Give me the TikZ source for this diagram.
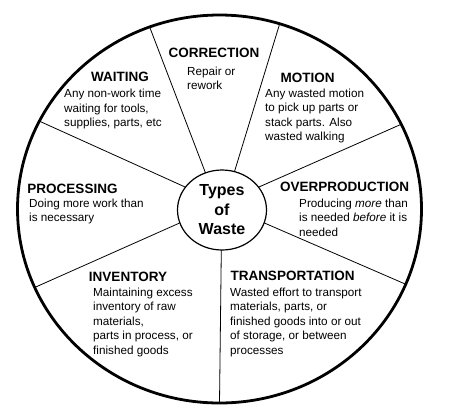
\documentclass[tikz,border=0pt]{standalone}
\usepackage{fontspec}
\setmainfont{Liberation Sans}
\usepackage{tikz}
\usetikzlibrary{shapes.geometric}

\begin{document}
\begin{tikzpicture}[
    x=1pt, y=-1pt,
    rim/.style={ellipse, draw=black, line width=2.8pt, inner sep=0pt, outer sep=0pt,
                minimum width=404pt, minimum height=388pt},
    hub/.style={ellipse, draw=black, line width=1.2pt, inner sep=0pt, outer sep=0pt,
                minimum width=89pt, minimum height=80pt, align=center,
                font=\fontsize{16}{19.5}\selectfont\bfseries},
    head/.style={anchor=base, inner sep=0pt, font=\fontsize{13.5}{16}\selectfont\bfseries},
    body/.style={anchor=base west, inner sep=0pt, align=left,
                 font=\fontsize{11.7}{14.5}\selectfont},
    spoke/.style={draw=black, line width=0.8pt}
]
\useasboundingbox (0,0) rectangle (454,416);

% Wheel
\node[rim] (rim) at (219.5,209) {};
\node[hub] (hub) at (222,210) {Types\\of\\Waste};

% Spokes
\draw[spoke] (hub.114) -- (rim.111);
\draw[spoke] (hub.72) -- (rim.72);
\draw[spoke] (hub.32) -- (rim.25);
\draw[spoke] (hub.-17) -- (rim.-22.6);
\draw[spoke] (hub.-91) -- (rim.-90);
\draw[spoke] (hub.197) -- (rim.203);
\draw[spoke] (hub.148) -- (rim.154);

% Headings
\node[head] (correction) at (214,57) {CORRECTION};
\node[head] (waiting) at (120,81) {WAITING};
\node[head] (motion) at (307.5,82) {MOTION};
\node[head] (processing) at (72.5,193) {PROCESSING};
\node[head] (overproduction) at (344.5,191) {OVERPRODUCTION};
\node[head] (inventory) at (128,281) {INVENTORY};
\node[head] (transportation) at (292.5,280) {TRANSPORTATION};

% Descriptions (placed by the baseline of their last line)
\node[body] (correctiontxt) at (187,89.5) {Repair or\\rework};
\node[body] (waitingtxt) at (64,126.5) {Any non-work time\\waiting for tools,\\supplies, parts, etc};
\node[body] (motiontxt) at (265,140.5) {Any wasted motion\\to pick up parts or\\stack parts. Also\\wasted walking};
\node[body] (processingtxt) at (29,221.5) {Doing more work than\\is necessary};
\node[body] (overproductiontxt) at (299,236) {Producing \textit{more} than\\is needed \textit{before} it is\\needed};
\node[body] (inventorytxt) at (93,354) {Maintaining excess\\inventory of raw\\materials,\\parts in process, or\\finished goods};
\node[body] (transportationtxt) at (230,354) {Wasted effort to transport\\materials, parts, or\\finished goods into or out\\of storage, or between\\processes};

\end{tikzpicture}
\end{document}
